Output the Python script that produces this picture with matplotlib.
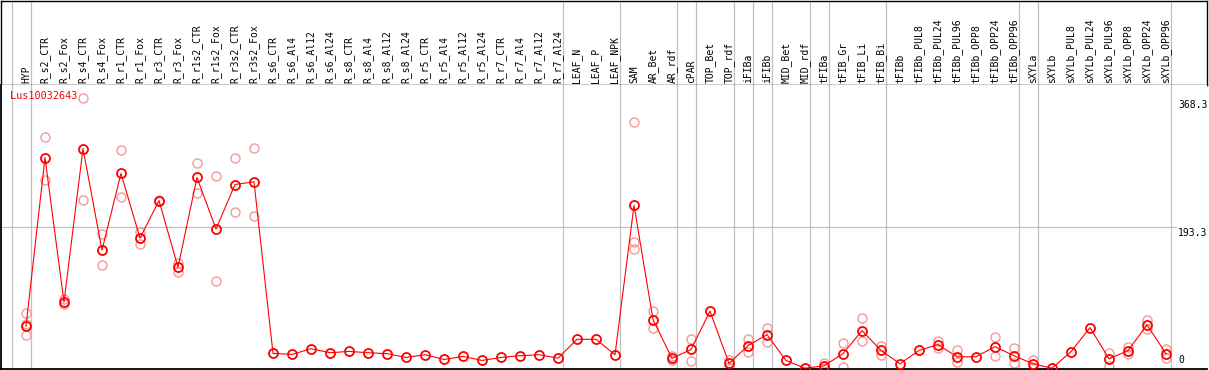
"""
Expression profile of one flax gene across tissues / treatments.
Mean per sample joined by a line, single replicates as pale circles.
"""

import matplotlib
matplotlib.use("Agg")
import matplotlib.pyplot as plt
from matplotlib.transforms import blended_transform_factory

gene_id = "Lus10032643"

samples = [
    "HYP", "R_s2_CTR", "R_s2_Fox", "R_s4_CTR", "R_s4_Fox", "R_r1_CTR", "R_r1_Fox",
    "R_r3_CTR", "R_r3_Fox", "R_r1s2_CTR", "R_r1s2_Fox", "R_r3s2_CTR", "R_r3s2_Fox",
    "R_s6_CTR", "R_s6_Al4", "R_s6_Al12", "R_s6_Al24", "R_s8_CTR", "R_s8_Al4",
    "R_s8_Al12", "R_s8_Al24", "R_r5_CTR", "R_r5_Al4", "R_r5_Al12", "R_r5_Al24",
    "R_r7_CTR", "R_r7_Al4", "R_r7_Al12", "R_r7_Al24", "LEAF_N", "LEAF_P", "LEAF_NPK",
    "SAM", "AR_Bet", "AR_rdf", "cPAR", "TOP_Bet", "TOP_rdf", "iFIBa", "iFIBb",
    "MID_Bet", "MID_rdf", "tFIBa", "tFIB_Gr", "tFIB_Li", "tFIB_Bi", "tFIBb",
    "tFIBb_PUL8", "tFIBb_PUL24", "tFIBb_PUL96", "tFIBb_OPP8", "tFIBb_OPP24",
    "tFIBb_OPP96", "sXYLa", "sXYLb", "sXYLb_PUL8", "sXYLb_PUL24", "sXYLb_PUL96",
    "sXYLb_OPP8", "sXYLb_OPP24", "sXYLb_OPP96",
]

means = [
    57.6, 287.5, 90.5, 299.8, 161.4, 266.0, 177.8, 229.0, 138.1, 260.5, 190.2,
    250.9, 254.6, 20.6, 19.2, 27.0, 21.5, 23.3, 21.5, 20.2, 15.1, 18.8, 12.3,
    16.5, 11.0, 15.1, 17.4, 18.8, 14.1, 39.8, 39.8, 18.8, 222.5, 66.8, 13.7,
    26.0, 78.1, 6.9, 31.1, 46.2, 11.0, 0.4, 3.7, 20.2, 51.7, 24.7, 6.4, 24.7,
    32.5, 16.0, 16.0, 29.8, 17.4, 6.4, 0.4, 22.9, 55.8, 13.3, 24.3, 59.4, 20.2,
]

replicates = [
    [75.4, 61.3, 45.2], [316.3, 257.7], [94.2, 87.3], [368.3, 230.3],
    [183.3, 141.2], [297.5, 234.0], [185.5, 170.4], [228.0, 230.0],
    [143.5, 132.0], [279.7, 239.5], [262.8, 118.9], [287.5, 213.5],
    [301.2, 208.0], [], [], [], [], [], [], [], [], [], [], [], [], [], [], [],
    [], [], [], [], [336.8, 172.3, 162.7], [78.1, 55.3], [11.0, 16.4],
    [40.7, 10.6], [], [11.9, 1.8], [39.8, 22.3], [55.8, 36.6], [], [],
    [7.3, 0.1], [35.2, 2.3], [69.0, 38.0], [30.6, 17.8], [], [], [37.0, 28.0],
    [25.1, 8.6], [], [42.5, 16.9], [27.4, 7.8], [11.9, 1.8], [], [], [],
    [21.5, 3.7], [29.2, 19.4], [65.8, 54.4], [27.0, 14.1],
]

# sample index after which a grey group separator is drawn (-1 = before first)
group_breaks = [-1, 0, 28, 31, 34, 35, 37, 38, 39, 41, 42, 45, 52, 53, 60]

y_top = 386.6
y_labels = ["368.3", "193.3", "0"]
y_values = [368.3, 193.3, 0.0]

W, H = 1209, 370
GRID = "#c0c0c0"
FONT = "DejaVu Sans Mono"


def px_box(left, top, right, bottom):
    """figure-fraction rect from pixel edges (origin top-left)"""
    return [left / W, 1 - bottom / H, (right - left) / W, (bottom - top) / H]


fig = plt.figure(figsize=(W / 100, H / 100), dpi=100)

# column i sits at 26 + 19*i pixels
x_lo = (1 - 26) / 19
x_hi = (1207 - 26) / 19

header = fig.add_axes(px_box(1, 0.5, 1207, 85))
ax = fig.add_axes(px_box(1, 85, 1207, 368.5))

# header with sample names
header.set_xlim(x_lo, x_hi)
header.set_ylim(0, 1)
header.set_xticks([])
header.set_yticks([])
for s in header.spines.values():
    s.set_color("black")
    s.set_linewidth(1.0)
for i, name in enumerate(samples):
    header.text(i, 0.025, name, rotation=90, ha="center", va="bottom",
                fontsize=7, family=FONT, color="black")

# main plot
ax.set_xlim(x_lo, x_hi)
ax.set_ylim(0, y_top)
ax.set_xticks([])
ax.set_yticks([])
ax.spines["top"].set_visible(False)
ax.spines["right"].set_visible(False)
ax.spines["left"].set_linewidth(1.3)
ax.spines["bottom"].set_linewidth(1.3)

for b in group_breaks:
    header.axvline(b + 0.25, color=GRID, lw=0.9, zorder=0)
    ax.axvline(b + 0.25, color=GRID, lw=0.9, zorder=0)

ax.axhline(y_values[1], xmin=0, xmax=(1176 - 1) / 1206, color=GRID, lw=0.9, zorder=0)

rep_x = [i for i, reps in enumerate(replicates) for _ in reps]
rep_y = [v for reps in replicates for v in reps]
ax.plot(rep_x, rep_y, "o", ls="none", ms=6.5, mfc="none", mec="#f09a9a",
        mew=1.0, zorder=2, clip_on=False)

ax.plot(range(len(samples)), means, "-", color="red", lw=0.8, zorder=3)
ax.plot(range(len(samples)), means, "o", ls="none", ms=6.5, mfc="none",
        mec="red", mew=1.3, zorder=4, clip_on=False)

ax.text((10 - 1) / 1206, 1 - 11 / 283, gene_id, transform=ax.transAxes,
        ha="left", va="center", fontsize=7.3, family=FONT, color="red")

tr = blended_transform_factory(ax.transAxes, ax.transData)
lx = (1178 - 1) / 1206
for lab, val in zip(y_labels, y_values):
    if val == 0:
        ax.annotate(lab, (lx, val), xycoords=tr, xytext=(0, 2.5),
                    textcoords="offset points", ha="left", va="bottom",
                    fontsize=7, family=FONT)
    else:
        ax.annotate(lab, (lx, val), xycoords=tr, xytext=(0, -4.5),
                    textcoords="offset points", ha="left", va="center",
                    fontsize=7, family=FONT)

fig.savefig("out.png", dpi=100)
